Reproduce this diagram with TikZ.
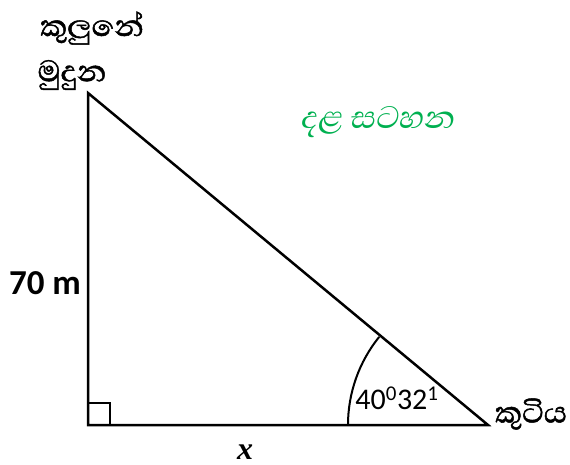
\documentclass[tikz,border=0pt]{standalone}
\usepackage{fontspec}
\setmainfont{Carlito}
\newfontfamily\sinhalafnt[Script=Sinhala]{Abhaya Libre}
\newfontfamily\sinhalabold[Script=Sinhala,FakeBold=1.3]{Abhaya Libre}
\definecolor{sgreen}{RGB}{0,176,80}
\begin{document}
\begin{tikzpicture}[x=1pt,y=-1pt,
  edge/.style={line width=2.5pt,line join=miter},
  slabel/.style={font=\sinhalabold\fontsize{38}{40}\selectfont,inner sep=0pt}]
\useasboundingbox (0,0) rectangle (570,465);
\coordinate (A) at (88,93);
\coordinate (B) at (88,425);
\coordinate (C) at (488,425);
\draw[edge] (A) -- (B) -- (C) -- cycle;
\draw[line width=2pt] (88,403) -- (110,403) -- (110,425);
\draw[line width=2pt] ([shift={(180:140)}]C) arc[start angle=180,end angle=219,radius=140];
\node[slabel,anchor=center] (top1) at (92,28) {කුලුනේ};
\node[slabel,anchor=center] (top2) at (72,75) {මුදුන};
\node[slabel,font=\sinhalafnt\fontsize{40}{42}\selectfont,text=sgreen,anchor=center,xslant=0.2] (title) at (378,122) {දළ සටහන};
\node[slabel,anchor=center] (hut) at (531,414) {කුටිය};
\node[font=\bfseries\fontsize{35}{38}\selectfont,inner sep=0pt] (h) at (45,283) {70 m};
\node[font=\fontsize{30}{32}\selectfont,inner sep=0pt] (ang) at (397,398) {40\textsuperscript{0}32\textsuperscript{1}};
\node[font=\fontspec{Liberation Serif}\bfseries\itshape\fontsize{32}{34}\selectfont,inner sep=0pt] (x) at (245,452) {x};
\end{tikzpicture}
\end{document}
